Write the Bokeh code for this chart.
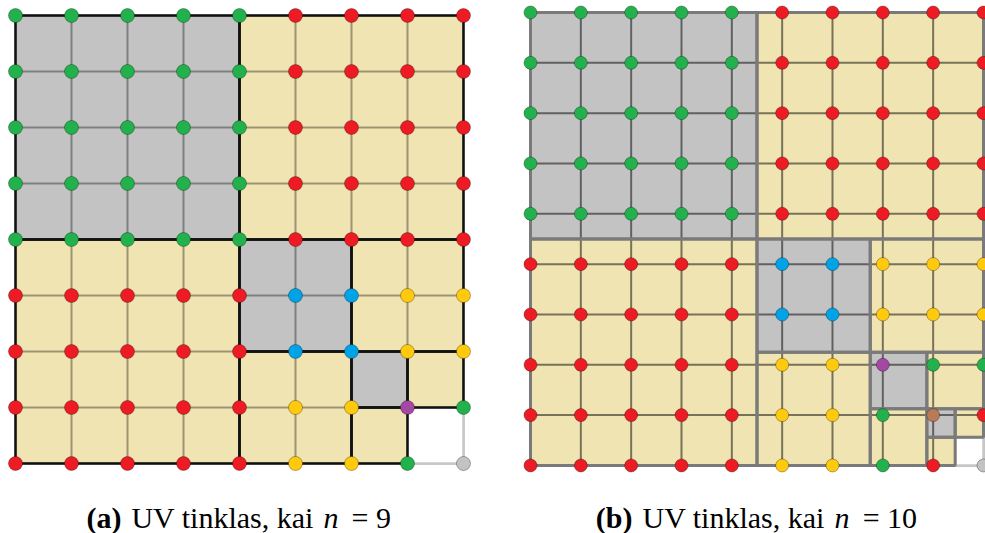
from bokeh.plotting import figure
from bokeh.models import Range1d, ColumnDataSource
from bokeh.layouts import row
from bokeh.embed import file_html
from bokeh.resources import INLINE
from bokeh.core.properties import value

# ---------------- data ----------------
# block kinds: g = gray block, y = yellow block, w = last (white) cell
# Panel (a): UV grid with n = 9 points per side
A_N = 9
A_BLOCK_LEFT = [0, 4, 0, 4, 6, 4, 6, 7, 6, 7]
A_BLOCK_RIGHT = [4, 8, 4, 6, 8, 6, 7, 8, 7, 8]
A_BLOCK_TOP = [0, 0, 4, 4, 4, 6, 6, 6, 7, 7]
A_BLOCK_BOTTOM = [4, 4, 8, 6, 6, 8, 7, 7, 8, 8]
A_BLOCK_KIND = ["g", "y", "y", "g", "y", "y", "g", "y", "y", "w"]
# vertex colours, row by row (top to bottom)
A_POINTS = [
    "GGGGGRRRR",
    "GGGGGRRRR",
    "GGGGGRRRR",
    "GGGGGRRRR",
    "GGGGGRRRR",
    "RRRRRBBYY",
    "RRRRRBBYY",
    "RRRRRYYPG",
    "RRRRRYYGS",
]
A_CAPTION = ["(a)", "UV tinklas, kai", "n", "= 9"]

# Panel (b): UV grid with n = 10 points per side
B_N = 10
B_BLOCK_LEFT = [0, 4.5, 0, 4.5, 6.75, 4.5, 6.75, 7.875, 6.75, 7.875, 8.4375, 7.875, 8.4375]
B_BLOCK_RIGHT = [4.5, 9, 4.5, 6.75, 9, 6.75, 7.875, 9, 7.875, 8.4375, 9, 8.4375, 9]
B_BLOCK_TOP = [0, 0, 4.5, 4.5, 4.5, 6.75, 6.75, 6.75, 7.875, 7.875, 7.875, 8.4375, 8.4375]
B_BLOCK_BOTTOM = [4.5, 4.5, 9, 6.75, 6.75, 9, 7.875, 7.875, 9, 8.4375, 8.4375, 9, 9]
B_BLOCK_KIND = ["g", "y", "y", "g", "y", "y", "g", "y", "y", "g", "y", "y", "w"]
B_POINTS = [
    "GGGGGRRRRR",
    "GGGGGRRRRR",
    "GGGGGRRRRR",
    "GGGGGRRRRR",
    "GGGGGRRRRR",
    "RRRRRBBYYY",
    "RRRRRBBYYY",
    "RRRRRYYPGG",
    "RRRRRYYGNR",
    "RRRRRYYGRS",
]
B_CAPTION = ["(b)", "UV tinklas, kai", "n", "= 10"]

# ---------------- styles ----------------
FILL = {"g": "#c3c3c3", "y": "#f0e4b2", "w": "#ffffff"}
PT = {"G": "#22b14c", "R": "#ed1c24", "B": "#00a2e8", "Y": "#ffc90e",
      "P": "#a349a4", "N": "#b97a57", "S": "#c3c3c3"}
CAP_FONT = "Liberation Serif"
CAP_SIZE = "30px"


def panel(width, height, xr, yr, n, left, right, top, bottom, kinds, pts,
          border_color, border_w, grid_alpha, pt_size, caption, cap_x, cap_y):
    p = figure(width=width, height=height,
               x_range=Range1d(*xr), y_range=Range1d(*yr),
               output_backend="svg", toolbar_location=None, tools="",
               x_axis_location=None, y_axis_location=None, min_border=0)
    p.grid.visible = False
    p.outline_line_color = None
    p.background_fill_color = "white"
    p.border_fill_color = "white"

    src = ColumnDataSource(dict(left=left, right=right, top=top, bottom=bottom,
                                fill=[FILL[k] for k in kinds]))
    p.quad(left="left", right="right", top="top", bottom="bottom",
           fill_color="fill", line_color=None, source=src)

    m = n - 1
    idx = list(range(n))
    p.segment(x0=idx, y0=[0] * n, x1=idx, y1=[m] * n,
              line_color="black", line_alpha=grid_alpha, line_width=2)
    p.segment(x0=[0] * n, y0=idx, x1=[m] * n, y1=idx,
              line_color="black", line_alpha=grid_alpha, line_width=2)

    wi = [i for i, k in enumerate(kinds) if k == "w"]
    ci = [i for i, k in enumerate(kinds) if k != "w"]
    p.quad(left=[left[i] for i in wi], right=[right[i] for i in wi],
           top=[top[i] for i in wi], bottom=[bottom[i] for i in wi],
           fill_color="white", line_color="#c8c8c8", line_width=2.5)
    p.quad(left=[left[i] for i in ci], right=[right[i] for i in ci],
           top=[top[i] for i in ci], bottom=[bottom[i] for i in ci],
           fill_color=None, line_color=border_color, line_width=border_w)

    xs, ys, cs = [], [], []
    for j, rowc in enumerate(pts):
        for i, c in enumerate(rowc):
            xs.append(i)
            ys.append(j)
            cs.append(PT[c])
    p.scatter(x=xs, y=ys, fill_color=cs, size=pt_size,
              line_color="black", line_alpha=0.3, line_width=1)

    csrc = ColumnDataSource(dict(
        x=cap_x, y=[cap_y] * 4, text=caption,
        style=["bold", "normal", "italic", "normal"],
        align=["right", "left", "left", "left"]))
    p.text(x="x", y="y", text="text", source=csrc,
           text_font=value(CAP_FONT), text_font_size=value(CAP_SIZE),
           text_font_style="style", text_align="align",
           text_baseline="alphabetic", text_color="#000000")
    return p


pa = panel(500, 533, (-0.268, 8.661), (9.25, -0.268), A_N,
           A_BLOCK_LEFT, A_BLOCK_RIGHT, A_BLOCK_TOP, A_BLOCK_BOTTOM,
           A_BLOCK_KIND, A_POINTS, "#111111", 2.5, 0.35, 14,
           A_CAPTION, [1.893, 2.07, 5.5, 6.0], 8.964)

pb = panel(485, 533, (-0.596, 9.040), (10.352, -0.238), B_N,
           B_BLOCK_LEFT, B_BLOCK_RIGHT, B_BLOCK_TOP, B_BLOCK_BOTTOM,
           B_BLOCK_KIND, B_POINTS, "#7a7a7a", 3.0, 0.5, 13,
           B_CAPTION, [2.027, 2.225, 6.04, 6.6], 10.034)

layout = row(pa, pb, spacing=0)
open("out.html", "w").write(file_html(layout, INLINE))
